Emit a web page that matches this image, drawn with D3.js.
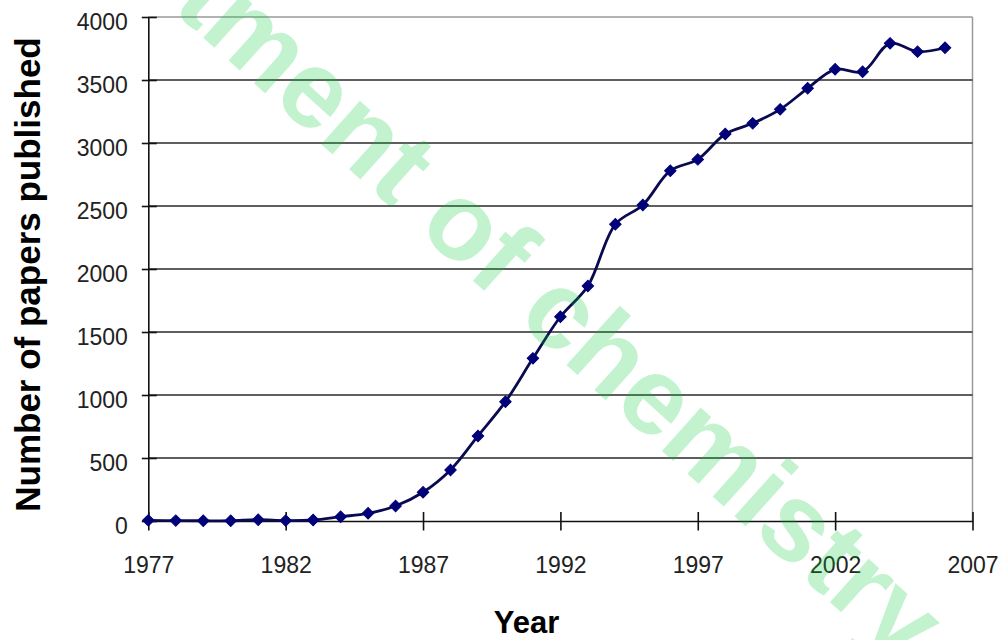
<!DOCTYPE html>
<html>
<head>
<meta charset="utf-8">
<script src="https://cdn.jsdelivr.net/npm/d3@7"></script>
<style>
  html, body { margin: 0; padding: 0; background: #fff; }
  svg { display: block; }
</style>
</head>
<body>
<svg id="chart" width="1002" height="640"></svg>
<script>
// ---- data ----
const years = [1977,1978,1979,1980,1981,1982,1983,1984,1985,1986,1987,1988,1989,1990,1991,
               1992,1993,1994,1995,1996,1997,1998,1999,2000,2001,2002,2003,2004,2005,2006];
const papers = [5,3,2,2,10,3,8,34,61,119,228,405,675,947,1291,
                1621,1865,2355,2508,2780,2870,3071,3156,3267,3434,3585,3566,3791,3725,3756];
const xTicks = [1977,1982,1987,1992,1997,2002,2007];
const yTicks = [0,500,1000,1500,2000,2500,3000,3500,4000];
const xTitle = "Year";
const yTitle = "Number of papers published";
const watermark = "Department of chemistry";

const svg = d3.select("#chart");
const font = "'Liberation Sans', Arial, sans-serif";

const x = d3.scaleLinear().domain([1977, 2007]).range([148.3, 972.5]);
const y = d3.scaleLinear().domain([0, 4000]).range([521, 17]);

// plot border (top/right gray)
svg.append("line").attr("x1", x(1977)).attr("x2", x(2007)).attr("y1", y(4000)).attr("y2", y(4000))
  .attr("stroke", "#9a9a9a").attr("stroke-width", 1.5);
svg.append("line").attr("x1", x(2007)).attr("x2", x(2007)).attr("y1", y(4000)).attr("y2", y(0))
  .attr("stroke", "#9a9a9a").attr("stroke-width", 1.5);

// gridlines
svg.append("g").selectAll("line").data(yTicks.filter(d => d > 0 && d < 4000)).join("line")
  .attr("x1", x(1977)).attr("x2", x(2007))
  .attr("y1", d => y(d)).attr("y2", d => y(d))
  .attr("stroke", "#2a2a2a").attr("stroke-width", 1.6);

// y axis
const yAxis = d3.axisLeft(y).tickValues(yTicks).tickSize(0).tickPadding(0).tickFormat(d3.format("d"));
const gy = svg.append("g").attr("transform", `translate(${x(1977)},0)`).call(yAxis);
gy.select(".domain").attr("stroke", "#111").attr("stroke-width", 1.6);
gy.selectAll(".tick text").attr("font-family", font).attr("font-size", 23).attr("fill", "#222")
  .attr("x", -20.5).attr("dy", "12px").attr("text-anchor", "end");
gy.selectAll(".tick").append("line").attr("x1", -6.5).attr("x2", 8.5).attr("stroke", "#111").attr("stroke-width", 1.6);

// x axis
const xAxis = d3.axisBottom(x).tickValues(xTicks).tickSize(0).tickPadding(0).tickFormat(d3.format("d"));
const gx = svg.append("g").attr("transform", `translate(0,${y(0)})`).call(xAxis);
gx.select(".domain").attr("stroke", "#111").attr("stroke-width", 1.6);
gx.selectAll(".tick text").attr("font-family", font).attr("font-size", 23).attr("fill", "#222")
  .attr("y", 52).attr("dy", 0);
gx.selectAll(".tick").append("line").attr("y1", -9).attr("y2", 9.5).attr("stroke", "#111").attr("stroke-width", 1.6);

// series line
const line = d3.line().x((d, i) => x(years[i])).y(d => y(d)).curve(d3.curveCatmullRom.alpha(0.5));
svg.append("path").datum(papers).attr("d", line)
  .attr("fill", "none").attr("stroke", "#0a0a50").attr("stroke-width", 2.8);

// markers (diamonds)
const diamond = d3.symbol().type(d3.symbolSquare).size(66);
svg.append("g").selectAll("path").data(papers).join("path")
  .attr("d", diamond)
  .attr("transform", (d, i) => `translate(${x(years[i])},${y(d)}) rotate(45)`)
  .attr("fill", "#000078").attr("stroke", "#000078").attr("stroke-width", 1);

// axis titles
svg.append("text").attr("x", 526.5).attr("y", 633)
  .attr("text-anchor", "middle").attr("font-family", font).attr("font-weight", "bold")
  .attr("font-size", 31).attr("fill", "#000").text(xTitle);
svg.append("text").attr("transform", "translate(40,274.5) rotate(-90)")
  .attr("text-anchor", "middle").attr("font-family", font).attr("font-weight", "bold")
  .attr("font-size", 35).attr("fill", "#000").text(yTitle);

// watermark
svg.append("text").attr("transform", "translate(420,233) rotate(42)")
  .attr("text-anchor", "middle").attr("font-family", font).attr("font-weight", "bold")
  .attr("font-size", 110).attr("fill", "rgb(0,205,50)").attr("fill-opacity", 0.24)
  .text(watermark);
</script>
</body>
</html>
